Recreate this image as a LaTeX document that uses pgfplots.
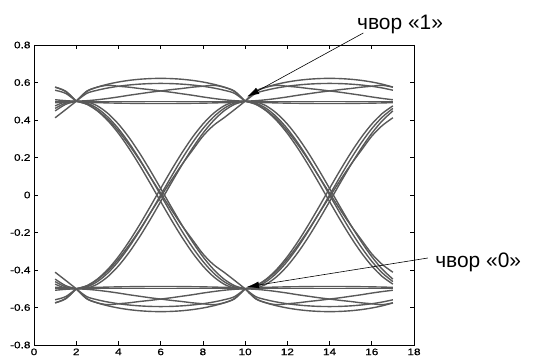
\documentclass[border=0pt]{standalone}
\usepackage{fontspec}
\setmainfont{Liberation Sans}
\newfontfamily\tickfont[FakeStretch=1.25,FakeBold=0.6]{Liberation Sans}
\usepackage{pgfplots}
\pgfplotsset{compat=1.18}
\usepackage{pgfplotstable}
\usetikzlibrary{arrows.meta}

% one bit period of the eye, x = sample 2..10; xa / xb = same period shifted left / right
\pgfplotstableread{
x xa xb t1 t2 t3 t4 t5 t6 f1 f2 f3 f4 b1 b2 b3 b4 b5 b6 r1 r2 r3 r4
2 -6 10 0.5 0.5 0.5 0.5 0.5 0.5 0.5 0.5 0.5 0.5 -0.5 -0.5 -0.5 -0.5 -0.5 -0.5 -0.5 -0.5 -0.5 -0.5
2.5 -5.5 10.5 0.5 0.4947 0.5539 0.542 0.503 0.552 0.4972 0.4836 0.4904 0.4854 -0.5 -0.4947 -0.5539 -0.542 -0.503 -0.552 -0.4972 -0.4836 -0.4904 -0.4854
3 -5 11 0.5 0.4926 0.5755 0.5588 0.508 0.575 0.4753 0.4485 0.4619 0.4519 -0.5 -0.4926 -0.5755 -0.5588 -0.508 -0.575 -0.4753 -0.4485 -0.4619 -0.4519
3.5 -4.5 11.5 0.5 0.4911 0.5909 0.5708 0.515 0.585 0.4351 0.3963 0.4157 0.4037 -0.5 -0.4911 -0.5909 -0.5708 -0.515 -0.585 -0.4351 -0.3963 -0.4157 -0.4037
4 -4 12 0.5 0.4899 0.6026 0.5799 0.523 0.580 0.3783 0.3289 0.3536 0.3416 -0.5 -0.4899 -0.6026 -0.5799 -0.523 -0.580 -0.3783 -0.3289 -0.3536 -0.3416
4.5 -3.5 12.5 0.5 0.4891 0.6113 0.5866 0.532 0.575 0.3069 0.2487 0.2778 0.2678 -0.5 -0.4891 -0.6113 -0.5866 -0.532 -0.575 -0.3069 -0.2487 -0.2778 -0.2678
5 -3 13 0.5 0.4885 0.6173 0.5913 0.540 0.568 0.2236 0.1590 0.1913 0.1863 -0.5 -0.4885 -0.6173 -0.5913 -0.540 -0.568 -0.2236 -0.1590 -0.1913 -0.1863
5.5 -2.5 13.5 0.5 0.4881 0.6208 0.5941 0.548 0.562 0.1318 0.0632 0.0975 0.0975 -0.5 -0.4881 -0.6208 -0.5941 -0.548 -0.562 -0.1318 -0.0632 -0.0975 -0.0975
6 -2 14 0.5 0.488 0.622 0.595 0.555 0.555 0.035 -0.035 0 0.01 -0.5 -0.488 -0.622 -0.595 -0.555 -0.555 -0.035 0.035 0 -0.01
6.5 -1.5 14.5 0.5 0.4881 0.6208 0.5941 0.562 0.548 -0.0632 -0.1318 -0.0975 -0.0775 -0.5 -0.4881 -0.6208 -0.5941 -0.562 -0.548 0.0632 0.1318 0.0975 0.0775
7 -1 15 0.5 0.4885 0.6173 0.5913 0.568 0.540 -0.1590 -0.2236 -0.1913 -0.1613 -0.5 -0.4885 -0.6173 -0.5913 -0.568 -0.540 0.1590 0.2236 0.1913 0.1613
7.5 -0.5 15.5 0.5 0.4891 0.6113 0.5866 0.575 0.532 -0.2487 -0.3069 -0.2778 -0.2378 -0.5 -0.4891 -0.6113 -0.5866 -0.575 -0.532 0.2487 0.3069 0.2778 0.2378
8 0 16 0.5 0.4899 0.6026 0.5799 0.580 0.523 -0.3289 -0.3783 -0.3536 -0.3136 -0.5 -0.4899 -0.6026 -0.5799 -0.580 -0.523 0.3289 0.3783 0.3536 0.3136
8.5 0.5 16.5 0.5 0.4911 0.5909 0.5708 0.585 0.515 -0.3963 -0.4351 -0.4157 -0.3707 -0.5 -0.4911 -0.5909 -0.5708 -0.585 -0.515 0.3963 0.4351 0.4157 0.3707
9 1 17 0.5 0.4926 0.5755 0.5588 0.575 0.508 -0.4485 -0.4753 -0.4619 -0.4119 -0.5 -0.4926 -0.5755 -0.5588 -0.575 -0.508 0.4485 0.4753 0.4619 0.4119
9.5 1.5 17.5 0.5 0.4947 0.5539 0.542 0.552 0.503 -0.4836 -0.4972 -0.4904 -0.4554 -0.5 -0.4947 -0.5539 -0.542 -0.552 -0.503 0.4836 0.4972 0.4904 0.4554
10 2 18 0.5 0.5 0.5 0.5 0.5 0.5 -0.5 -0.5 -0.5 -0.5 -0.5 -0.5 -0.5 -0.5 -0.5 -0.5 0.5 0.5 0.5 0.5
}\eye

\begin{document}
\begin{tikzpicture}
\begin{axis}[
    width=380bp, height=300bp, scale only axis,
    xmin=0, xmax=18, ymin=-0.8, ymax=0.8,
    xtick={0,2,...,18},
    ytick={-0.8,-0.6,-0.4,-0.2,0,0.2,0.4,0.6,0.8},
    tick align=inside, major tick length=4bp,
    axis line style={line width=0.8pt},
    tick style={line width=0.7pt, black},
    ticklabel style={font=\tickfont\fontsize{9.5}{10}\selectfont},
    /pgf/number format/assume math mode=true,
    yticklabel style={/pgf/number format/fixed, /pgf/number format/precision=1},
    clip=false,
    trace/.style={smooth, no markers, color=black!65, line width=1.4pt,
        restrict x to domain=1:17, forget plot},
]
\pgfplotsinvokeforeach{t1,t2,t3,t4,t5,t6,f1,f2,f3,f4,b1,b2,b3,b4,b5,b6,r1,r2,r3,r4}{
    \addplot[trace] table[x=xa, y=#1] {\eye};
    \addplot[trace] table[x=x, y=#1] {\eye};
    \addplot[trace] table[x=xb, y=#1] {\eye};
}
\node[anchor=base west, inner sep=0pt, font=\fontsize{21}{24}\selectfont]
    at (axis cs:15.3,0.885) {чвор «1»};
\draw[-{Latex[length=12bp,width=7bp]}, line width=0.6pt]
    (axis cs:15.6,0.864) -- (axis cs:10.1,0.525);
\node[anchor=base west, inner sep=0pt, font=\fontsize{21}{24}\selectfont]
    at (axis cs:19.0,-0.389) {чвор «0»};
\draw[-{Latex[length=12bp,width=7bp]}, line width=0.6pt]
    (axis cs:18.66,-0.336) -- (axis cs:10.09,-0.49);
\path (rel axis cs:0,0) ++(-34bp,-15bp) rectangle ++(541bp,360bp);
\end{axis}
\end{tikzpicture}
\end{document}
